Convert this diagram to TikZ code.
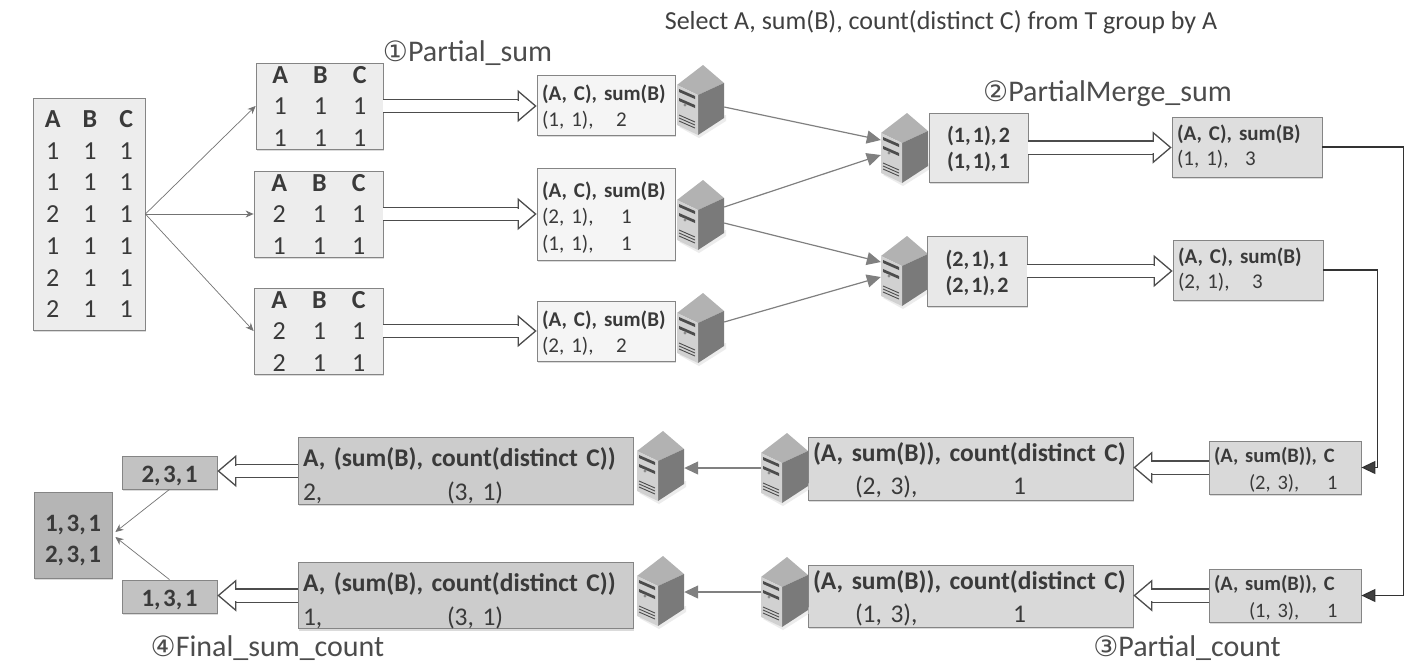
\documentclass[tikz,border=0pt]{standalone}
\usepackage{xcolor}
\usepackage{fontspec}
\setmainfont[WordSpace=0.45]{Carlito}
\newfontfamily\titlefont{Carlito}
\newfontfamily\circfont{DejaVu Sans}
\usetikzlibrary{positioning,calc,shadows,arrows.meta}
\definecolor{inkgray}{HTML}{3A3A3A}
\definecolor{edgegray}{HTML}{858585}
\newcommand{\fsize}[2]{\fontsize{#1pt}{#2pt}\selectfont}
\newcommand{\rowtext}[3]{\makebox[#1pt][l]{#2}#3}
\newcommand{\lift}[1]{\rule{0pt}{#1pt}}
\newcommand{\abctable}[2]{%
  \begin{tabular}{@{}c@{\hspace{#1pt}}c@{\hspace{#1pt}}c@{}}\textbf{A}&\textbf{B}&\textbf{C}\\#2\end{tabular}}
\newcommand{\serverpic}[3]{%
  \begin{scope}[shift={(#2,#3)}]
    \fill[black!12,opacity=0.6] (2,62) -- (22,73) -- (49,56) -- (49,50) -- cycle;
    \fill[black!30] (0,20) -- (26,0) -- (47,18) -- (21,30) -- cycle;
    \fill[black!52] (21,30) -- (47,18) -- (47,53) -- (21,70) -- cycle;
    \fill[black!18] (0,20) -- (21,30) -- (21,70) -- (0,60) -- cycle;
    \foreach \yy in {24,33} {
      \fill[black!70] (2,\yy) -- (18,\yy+7) -- (18,\yy+10) -- (2,\yy+3) -- cycle;
    }
    \fill[black!45] (8,40) circle (1.6);
    \foreach \yy in {50,53,56} {
      \draw[black!70,line width=0.9pt] (2,\yy) -- (18,\yy+7);
    }
    \node[minimum width=47pt,minimum height=70pt,inner sep=0pt] (#1) at (23.5,35) {};
  \end{scope}}

\begin{document}
\begin{tikzpicture}[x=1pt,y=-1pt,
    basebox/.style={draw=edgegray,line width=0.8pt,text=inkgray,inner sep=0pt,
      drop shadow={shadow xshift=1pt,shadow yshift=-2pt,opacity=0.14,fill=black}},
    tablebox/.style={basebox,fill=black!7},
    smalltable/.style={tablebox,minimum height=86pt,text height=45pt,text depth=28pt,font=\fsize{26}{31.5}},
    leftbox/.style={basebox,align=left,inner xsep=5pt},
    label/.style={text=black!70,font=\fsize{30}{34}},
    thinline/.style={draw=black!55,line width=0.7pt,-{Stealth[length=8pt,width=7pt]}},
    hollow/.style={draw=black!70,double=white,double distance=12pt,line width=1.3pt,
      -{Triangle[open,fill=white,length=19pt,width=32pt]},
      postaction={draw=white,line width=11pt,-,shorten >=16pt,shorten <=1pt}},
    srvline/.style={draw=black!50,line width=1.2pt,-{Triangle[length=14pt,width=13pt]}},
    darkline/.style={draw=black!80,line width=1.2pt,-{Triangle[length=14pt,width=13pt,fill=black!75]}}]
  \useasboundingbox (0,0) rectangle (1418,670);
  \fill[white] (0,0) rectangle (1418,670);

  % Titles
  \node[text=black!75,font=\titlefont\fsize{26}{28},inner sep=0pt] (title) at (941,22)
    {Select A, sum(B), count(distinct C) from T group by A};
  \node[label,inner sep=0pt] (lone) at (467.5,53) {{\circfont\fsize{28}{24}①}Partial\_sum};
  \node[label,inner sep=0pt] (ltwo) at (1107.5,94) {{\circfont\fsize{28}{24}②}PartialMerge\_sum};
  \node[label,inner sep=0pt] (lthree) at (1187,648) {{\circfont\fsize{28}{24}③}Partial\_count};
  \node[label,inner sep=0pt] (lfour) at (267.5,648) {{\circfont\fsize{28}{24}④}Final\_sum\_count};

  % Input tables
  \node[tablebox,minimum width=112pt,minimum height=232pt,text height=100pt,text depth=83pt,font=\fsize{26}{31.7}] (tt) at (89,214)
    {\abctable{22}{1&1&1\\1&1&1\\2&1&1\\1&1&1\\2&1&1\\2&1&1}};
  \node[smalltable,minimum width=127pt] (ta) at (319.5,106)
    {\abctable{25}{1&1&1\\1&1&1}};
  \node[smalltable,minimum width=129pt] (tb) at (318.5,214)
    {\abctable{25}{2&1&1\\1&1&1}};
  \node[smalltable,minimum width=129pt] (tc) at (318.5,331)
    {\abctable{25}{2&1&1\\2&1&1}};

  % Partial_sum
  \node[leftbox,fill=black!4,text width=128pt,minimum height=60pt,font=\fsize{21}{26.5}] (ra) at (606,105)
    {\lift{20}\textbf{(A, C), sum(B)}\\\rowtext{74}{(1, 1),}{2}};
  \node[leftbox,fill=black!4,text width=128pt,minimum height=92pt,font=\fsize{21}{26.5}] (rb) at (606,214)
    {\lift{22}\textbf{(A, C), sum(B)}\\\rowtext{79}{(2, 1),}{1}\\\rowtext{79}{(1, 1),}{1}};
  \node[leftbox,fill=black!4,text width=128pt,minimum height=60pt,font=\fsize{21}{26.5}] (rc) at (606,331)
    {\lift{20}\textbf{(A, C), sum(B)}\\\rowtext{74}{(2, 1),}{2}};
  \serverpic{sa}{677}{65}
  \serverpic{sb}{677}{180}
  \serverpic{sc}{677}{293}

  % PartialMerge_sum
  \serverpic{sd}{881}{113}
  \serverpic{se}{881}{236}
  \node[basebox,fill=black!9,minimum width=99pt,minimum height=69pt,font=\fsize{22}{26},align=center] (ma) at (978.5,147.5)
    {\lift{20}\textbf{(1, 1), 2}\\\textbf{(1, 1), 1}};
  \node[basebox,fill=black!9,minimum width=100pt,minimum height=70pt,font=\fsize{22}{26},align=center] (mb) at (977,271)
    {\lift{20}\textbf{(2, 1), 1}\\\textbf{(2, 1), 2}};
  \node[leftbox,fill=black!13,text width=140pt,minimum height=60pt,font=\fsize{21}{25}] (sua) at (1247,147)
    {\textbf{(A, C), sum(B)}\\\rowtext{68}{(1, 1),}{3}};
  \node[leftbox,fill=black!13,text width=140pt,minimum height=60pt,font=\fsize{21}{25}] (sub) at (1248,270)
    {\textbf{(A, C), sum(B)}\\\rowtext{74}{(2, 1),}{3}};

  % Partial_count
  \node[leftbox,fill=black!15,text width=142pt,minimum height=53pt,font=\fsize{20.5}{27}] (pa) at (1285,467.5)
    {\lift{20}\textbf{(A, sum(B)), C}\\\hspace*{35pt}\rowtext{78}{(2, 3),}{1}};
  \node[leftbox,fill=black!15,text width=142pt,minimum height=53pt,font=\fsize{20.5}{27}] (pb) at (1285,595.5)
    {\lift{20}\textbf{(A, sum(B)), C}\\\hspace*{35pt}\rowtext{78}{(1, 3),}{1}};
  \node[leftbox,fill=black!15,text width=315pt,minimum height=63pt,font=\fsize{25.5}{33}] (ca) at (970.5,468.5)
    {\lift{23}\textbf{(A, sum(B)), count(distinct C)}\\\hspace*{42pt}\rowtext{158}{(2, 3),}{1}};
  \node[leftbox,fill=black!15,text width=315pt,minimum height=62pt,font=\fsize{25.5}{33}] (cb) at (970.5,596)
    {\lift{23}\textbf{(A, sum(B)), count(distinct C)}\\\hspace*{42pt}\rowtext{158}{(1, 3),}{1}};
  \serverpic{sf}{761}{433}
  \serverpic{sg}{761}{557}

  % Final_sum_count
  \serverpic{sh}{637}{431}
  \serverpic{si}{637}{556}
  \node[leftbox,fill=black!20,text width=325pt,minimum height=64pt,font=\fsize{25.5}{34}] (fa) at (465.5,471)
    {\lift{29}\textbf{A, (sum(B), count(distinct C))}\\\rowtext{144}{2,}{(3, 1)}};
  \node[leftbox,fill=black!20,text width=325pt,minimum height=63pt,font=\fsize{25.5}{34}] (fb) at (465.5,595.5)
    {\lift{29}\textbf{A, (sum(B), count(distinct C))}\\\rowtext{144}{1,}{(3, 1)}};
  \node[basebox,fill=black!24,minimum width=95pt,minimum height=33pt,font=\fsize{25}{28}] (oa) at (169.5,472.5) {\lift{23}\textbf{2, 3, 1}};
  \node[basebox,fill=black!24,minimum width=95pt,minimum height=33pt,font=\fsize{25}{28}] (ob) at (169.5,596.5) {\lift{23}\textbf{1, 3, 1}};
  \node[basebox,fill=black!29,minimum width=78pt,minimum height=86pt,font=\fsize{25}{31},align=center] (en) at (73,535)
    {\lift{27}\textbf{1, 3, 1}\\\textbf{2, 3, 1}};

  % Split
  \foreach \t in {ta,tb,tc} {
    \draw[thinline] (tt.east) -- (\t.west);
  }

  % Hollow arrows
  \draw[hollow] (ta.east) -- (ta.east -| ra.west);
  \draw[hollow] (tb.east) -- (tb.east -| rb.west);
  \draw[hollow] (tc.east) -- (tc.east -| rc.west);
  \draw[hollow] (ma.east) -- (ma.east -| sua.west);
  \draw[hollow] (mb.east) -- (mb.east -| sub.west);
  \draw[hollow] (pa.west) -- (pa.west -| ca.east);
  \draw[hollow] (pb.west) -- (pb.west -| cb.east);
  \draw[hollow] (fa.west) -- (fa.west -| oa.east);
  \draw[hollow] (fb.west) -- (fb.west -| ob.east);

  % Servers
  \draw[srvline] ($(sa.east)+(0,7)$) -- ($(sd.west)+(0,-8)$);
  \draw[srvline] ($(sb.east)+(0,-8)$) -- ($(sd.west)+(0,7)$);
  \draw[srvline] ($(sb.east)+(0,8)$) -- ($(se.west)+(0,-9)$);
  \draw[srvline] ($(sc.east)+(0,-6)$) -- ($(se.west)+(0,6)$);
  \draw[srvline] (sf.west) -- (sf.west -| sh.east);
  \draw[srvline] (sg.west) -- (sg.west -| si.east);

  % Shuffle
  \draw[darkline] (sua.east) -- ++(81,0) |- (pb.east);
  \draw[darkline] (sub.east) -- ++(54,0) |- (pa.east);

  % Merge
  \draw[thinline] (oa.south) -- ($(en.east)+(3,-3)$);
  \draw[thinline] (ob.north) -- ($(en.east)+(3,2)$);
\end{tikzpicture}
\end{document}
